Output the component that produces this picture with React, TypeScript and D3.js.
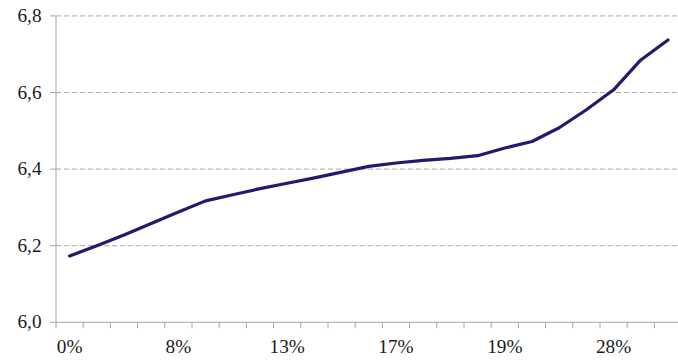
import React from "react";
import * as d3 from "d3";

// Category labels (every fourth category carries a label)
const categories: string[] = [
  "0%", "", "", "", "8%", "", "", "", "13%", "", "", "",
  "17%", "", "", "", "19%", "", "", "", "28%", "", "",
];

// Series values
const values: number[] = [
  6.173, 6.2, 6.228, 6.258, 6.288, 6.317, 6.333, 6.349, 6.363, 6.377, 6.392, 6.407,
  6.416, 6.423, 6.428, 6.435, 6.455, 6.472, 6.508, 6.555, 6.607, 6.685, 6.737,
];

const yTicks: number[] = [6.0, 6.2, 6.4, 6.6, 6.8];

const W = 678;
const H = 361;
const left = 56;
const top = 15.9;
const bottom = 322.3;
const step = 27.2;

export default function App() {
  const ids = categories.map((_, i) => String(i));
  const x = d3
    .scaleBand<string>()
    .domain(ids)
    .range([left, left + step * categories.length])
    .paddingInner(0)
    .paddingOuter(0);
  const y = d3.scaleLinear().domain([6.0, 6.8]).range([bottom, top]);

  const line = d3
    .line<number>()
    .x((_, i) => (x(String(i)) as number) + x.bandwidth() / 2)
    .y((d) => y(d))
    .curve(d3.curveLinear);

  const fmt = (v: number) => v.toFixed(1).replace(".", ",");
  const textStyle = {
    fontFamily: '"Liberation Serif", "DejaVu Serif", serif',
    fontSize: "18px",
    fill: "#1a1a1a",
  };
  const axisColor = "#a6a6a6";
  const stretch = 1.07;

  const tickXs = d3.range(categories.length + 1).map((i) => left + step * i);

  return (
    <svg
      width={W}
      height={H}
      style={{ position: "absolute", left: 0, top: 0, background: "#fff" }}
    >
      {/* horizontal dashed gridlines */}
      {yTicks.slice(1).map((t) => (
        <line
          key={"g" + t}
          x1={left}
          x2={W}
          y1={y(t)}
          y2={y(t)}
          stroke="#a8a8a8"
          strokeWidth={1}
          strokeDasharray="5,3"
        />
      ))}

      {/* y axis */}
      <line x1={left} x2={left} y1={top} y2={bottom} stroke={axisColor} strokeWidth={1} />
      {yTicks.map((t) => (
        <g key={"y" + t}>
          <line x1={left - 6} x2={left} y1={y(t)} y2={y(t)} stroke={axisColor} />
          <text
            transform={`translate(41.5,${y(t)}) scale(${stretch},1)`}
            dy="0.34em"
            textAnchor="end"
            style={textStyle}
          >
            {fmt(t)}
          </text>
        </g>
      ))}

      {/* x axis */}
      <line x1={left} x2={W} y1={bottom} y2={bottom} stroke={axisColor} strokeWidth={1} />
      {tickXs.map((tx, i) => (
        <line key={"t" + i} x1={tx} x2={tx} y1={bottom} y2={bottom + 6} stroke={axisColor} />
      ))}
      {categories.map((c, i) =>
        c ? (
          <text
            key={"c" + i}
            transform={`translate(${(x(String(i)) as number) + x.bandwidth() / 2},352.5) scale(${stretch},1)`}
            textAnchor="middle"
            style={textStyle}
          >
            {c}
          </text>
        ) : null
      )}

      {/* series line */}
      <path
        d={line(values) || ""}
        fill="none"
        stroke="#221a6c"
        strokeWidth={3.2}
        strokeLinejoin="round"
        strokeLinecap="round"
      />
    </svg>
  );
}
